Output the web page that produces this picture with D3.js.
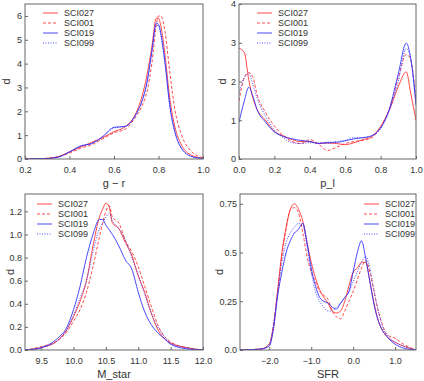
<!DOCTYPE html>
<html>
<head>
<meta charset="utf-8">
<script src="https://cdn.jsdelivr.net/npm/d3@7"></script>
<style>
  html, body { margin: 0; padding: 0; background: #fff; }
  svg { display: block; font-family: "Liberation Sans", Arial, sans-serif; }
</style>
</head>
<body>
<div id="chart"></div>
<script>
// series names (legend order)
const seriesNames = ["SCI027", "SCI001", "SCI019", "SCI099"];

// g - r
const grX       = [0.2, 0.25, 0.3, 0.35, 0.4, 0.45, 0.5, 0.55, 0.6, 0.65, 0.7, 0.725, 0.75, 0.77, 0.79, 0.8, 0.81, 0.83, 0.85, 0.875, 0.9, 0.95, 1.0];
const grSCI027  = [0.0, 0.01, 0.03, 0.1, 0.3, 0.5, 0.7, 0.9, 1.15, 1.35, 1.95, 2.6, 3.6, 4.7, 5.9, 5.9, 5.6, 4.3, 2.6, 1.3, 0.65, 0.15, 0.03];
const grSCI001  = [0.0, 0.01, 0.03, 0.1, 0.25, 0.45, 0.6, 0.85, 1.1, 1.25, 1.8, 2.2, 2.9, 4.0, 5.6, 6.0, 6.0, 5.3, 3.7, 2.0, 1.1, 0.3, 0.05];
const grSCI019  = [0.0, 0.01, 0.02, 0.08, 0.3, 0.55, 0.65, 0.95, 1.33, 1.37, 1.9, 2.4, 3.3, 4.5, 5.7, 5.65, 5.3, 4.0, 2.3, 1.1, 0.5, 0.1, 0.02];
const grSCI099  = [0.0, 0.01, 0.02, 0.08, 0.28, 0.52, 0.65, 0.92, 1.3, 1.36, 1.88, 2.4, 3.3, 4.5, 5.6, 5.6, 5.2, 3.9, 2.25, 1.05, 0.5, 0.1, 0.02];

// p_l
const plX       = [0.0, 0.03, 0.055, 0.08, 0.1, 0.15, 0.2, 0.25, 0.3, 0.35, 0.4, 0.45, 0.5, 0.55, 0.6, 0.65, 0.7, 0.75, 0.8, 0.85, 0.9, 0.945, 0.97, 1.0];
const plSCI027  = [2.86, 2.75, 2.05, 1.55, 1.3, 1.0, 0.71, 0.6, 0.5, 0.45, 0.45, 0.4, 0.41, 0.4, 0.37, 0.42, 0.5, 0.58, 0.84, 1.27, 1.87, 2.25, 1.7, 1.0];
const plSCI001  = [1.5, 2.1, 2.23, 2.1, 1.7, 1.2, 0.85, 0.6, 0.45, 0.4, 0.5, 0.38, 0.22, 0.3, 0.4, 0.45, 0.48, 0.55, 0.82, 1.3, 2.1, 2.7, 2.55, 1.5];
const plSCI019  = [0.95, 1.5, 1.85, 1.6, 1.3, 0.95, 0.7, 0.58, 0.52, 0.48, 0.45, 0.4, 0.43, 0.43, 0.47, 0.52, 0.55, 0.6, 0.8, 1.3, 2.2, 2.99, 2.6, 1.4];
const plSCI099  = [1.7, 2.1, 2.2, 1.9, 1.6, 1.1, 0.75, 0.55, 0.42, 0.4, 0.42, 0.42, 0.4, 0.45, 0.48, 0.55, 0.55, 0.6, 0.78, 1.25, 2.0, 2.85, 2.6, 1.4];

// M_star
const msX       = [9.25, 9.5, 9.75, 9.9, 10.0, 10.1, 10.2, 10.3, 10.4, 10.45, 10.5, 10.55, 10.6, 10.7, 10.8, 10.9, 11.0, 11.1, 11.2, 11.3, 11.4, 11.5, 11.75, 12.0];
const msSCI027  = [0.0, 0.02, 0.08, 0.18, 0.29, 0.42, 0.6, 0.9, 1.15, 1.22, 1.27, 1.24, 1.1, 1.05, 0.93, 0.82, 0.64, 0.5, 0.32, 0.18, 0.1, 0.06, 0.02, 0.0];
const msSCI001  = [0.0, 0.03, 0.08, 0.16, 0.25, 0.35, 0.5, 0.72, 0.98, 1.1, 1.2, 1.25, 1.15, 1.1, 0.95, 0.85, 0.72, 0.55, 0.38, 0.22, 0.12, 0.07, 0.02, 0.0];
const msSCI019  = [0.0, 0.02, 0.1, 0.2, 0.35, 0.55, 0.8, 1.0, 1.13, 1.13, 1.08, 1.04, 1.0, 0.9, 0.78, 0.7, 0.5, 0.33, 0.22, 0.15, 0.1, 0.05, 0.01, 0.0];
const msSCI099  = [0.0, 0.02, 0.08, 0.18, 0.3, 0.45, 0.6, 0.85, 1.05, 1.1, 1.15, 1.18, 1.12, 1.05, 0.95, 0.8, 0.65, 0.48, 0.32, 0.2, 0.12, 0.06, 0.02, 0.0];

// SFR
const sfrX      = [-2.7, -2.2, -2.0, -1.9, -1.8, -1.7, -1.6, -1.5, -1.4, -1.3, -1.2, -1.1, -1.0, -0.9, -0.8, -0.7, -0.6, -0.5, -0.4, -0.3, -0.2, -0.1, 0.0, 0.1, 0.2, 0.3, 0.4, 0.5, 0.6, 0.7, 0.8, 1.0, 1.2, 1.5];
const sfrSCI027 = [0.0, 0.005, 0.03, 0.12, 0.31, 0.5, 0.63, 0.72, 0.75, 0.72, 0.66, 0.55, 0.45, 0.37, 0.31, 0.27, 0.24, 0.2, 0.19, 0.2, 0.25, 0.33, 0.4, 0.42, 0.45, 0.45, 0.35, 0.24, 0.15, 0.1, 0.07, 0.04, 0.02, 0.0];
const sfrSCI001 = [0.0, 0.005, 0.03, 0.13, 0.3, 0.48, 0.62, 0.72, 0.73, 0.7, 0.6, 0.48, 0.4, 0.35, 0.3, 0.28, 0.26, 0.2, 0.17, 0.16, 0.2, 0.25, 0.3, 0.36, 0.42, 0.46, 0.4, 0.3, 0.2, 0.13, 0.08, 0.06, 0.03, 0.0];
const sfrSCI019 = [0.0, 0.005, 0.02, 0.11, 0.28, 0.4, 0.5, 0.56, 0.6, 0.62, 0.65, 0.55, 0.42, 0.33, 0.27, 0.25, 0.24, 0.22, 0.21, 0.24, 0.27, 0.3, 0.4, 0.5, 0.56, 0.47, 0.35, 0.23, 0.15, 0.1, 0.07, 0.03, 0.01, 0.0];
const sfrSCI099 = [0.0, 0.005, 0.03, 0.13, 0.3, 0.45, 0.55, 0.6, 0.63, 0.65, 0.64, 0.53, 0.4, 0.3, 0.25, 0.22, 0.2, 0.2, 0.22, 0.24, 0.27, 0.3, 0.35, 0.4, 0.45, 0.48, 0.42, 0.3, 0.2, 0.12, 0.08, 0.04, 0.02, 0.0];

// tick values
const grTicksX  = [0.2, 0.4, 0.6, 0.8, 1.0];
const grTicksY  = [0, 1, 2, 3, 4, 5, 6];
const plTicksX  = [0.0, 0.2, 0.4, 0.6, 0.8, 1.0];
const plTicksY  = [0, 1, 2, 3, 4];
const msTicksX  = [9.5, 10.0, 10.5, 11.0, 11.5, 12.0];
const msTicksY  = [0.0, 0.2, 0.4, 0.6, 0.8, 1.0, 1.2];
const sfrTicksX = [-2.0, -1.0, 0.0, 1.0];
const sfrTicksY = [0.0, 0.25, 0.5, 0.75];

const W = 424, H = 381;
const styles = [
    { color: "#ff2a2a", dash: null },
    { color: "#ff2a2a", dash: "3,2" },
    { color: "#2a2aff", dash: null },
    { color: "#2a2aff", dash: "1,1.5" }
];

const fmt1 = d => d3.format(".1f")(d).replace("-", "\u2212");
const fmtY4 = d => (d === 0 ? "0.0" : d === 0.5 ? "0.5" : String(d));

const panels = [
    { x: grX, ys: [grSCI027, grSCI001, grSCI019, grSCI099], xDom: [0.2, 1.0], yDom: [0, 6.5],
      xt: grTicksX, yt: grTicksY, xf: fmt1, yf: d => d, xlab: "g \u2212 r",
      box: [25, 4, 203, 159], legX: 43, legY: 13, dOff: 19 },
    { x: plX, ys: [plSCI027, plSCI001, plSCI019, plSCI099], xDom: [0, 1], yDom: [0, 4],
      xt: plTicksX, yt: plTicksY, xf: fmt1, yf: d => d, xlab: "p_l",
      box: [239, 4, 416, 159], legX: 257, legY: 13, dOff: 17 },
    { x: msX, ys: [msSCI027, msSCI001, msSCI019, msSCI099], xDom: [9.25, 12], yDom: [0, 1.35],
      xt: msTicksX, yt: msTicksY, xf: fmt1, yf: fmt1, xlab: "M_star",
      box: [25, 194, 203, 350], legX: 37, legY: 204, dOff: 15 },
    { x: sfrX, ys: [sfrSCI027, sfrSCI001, sfrSCI019, sfrSCI099], xDom: [-2.7, 1.5], yDom: [0, 0.8],
      xt: sfrTicksX, yt: sfrTicksY, xf: fmt1, yf: fmtY4, xlab: "SFR",
      box: [240, 194, 416, 350], legX: 364, legY: 204, dOff: 21 }
];

const svg = d3.select("#chart").append("svg")
    .attr("width", W).attr("height", H);
const defs = svg.append("defs");

panels.forEach((p, pi) => {
    const [x0, y0, x1, y1] = p.box;
    const xs = d3.scaleLinear().domain(p.xDom).range([x0, x1]);
    const ys = d3.scaleLinear().domain(p.yDom).range([y1, y0]);
    const g = svg.append("g");

    defs.append("clipPath").attr("id", "clip" + pi)
        .append("rect").attr("x", x0).attr("y", y0).attr("width", x1 - x0).attr("height", y1 - y0);

    // curves
    const line = d3.line()
        .x((d, i) => xs(p.x[i]))
        .y(d => ys(d))
        .curve(d3.curveMonotoneX);
    const curves = g.append("g").attr("clip-path", `url(#clip${pi})`);
    p.ys.forEach((arr, si) => {
        curves.append("path")
            .attr("d", line(arr))
            .attr("fill", "none")
            .attr("stroke", styles[si].color)
            .attr("stroke-opacity", 0.85)
            .attr("stroke-width", 1)
            .attr("stroke-dasharray", styles[si].dash);
    });

    // axes (ticks inward)
    g.append("g").attr("transform", `translate(0,${y1})`)
        .call(d3.axisBottom(xs).tickValues(p.xt).tickSize(-3).tickPadding(8).tickFormat(p.xf))
        .call(a => a.select(".domain").remove())
        .call(a => a.selectAll("line").attr("stroke", "#666"))
        .call(a => a.selectAll("text").attr("fill", "#333").attr("font-size", 9)
            .attr("font-family", "Liberation Sans, Arial, sans-serif"));
    g.append("g").attr("transform", `translate(${x0},0)`)
        .call(d3.axisLeft(ys).tickValues(p.yt).tickSize(-3).tickPadding(3).tickFormat(p.yf))
        .call(a => a.select(".domain").remove())
        .call(a => a.selectAll("line").attr("stroke", "#666"))
        .call(a => a.selectAll("text").attr("fill", "#333").attr("font-size", 9)
            .attr("font-family", "Liberation Sans, Arial, sans-serif"));

    // frame
    g.append("rect")
        .attr("x", x0).attr("y", y0).attr("width", x1 - x0).attr("height", y1 - y0)
        .attr("fill", "none").attr("stroke", "#666").attr("stroke-width", 1);

    // axis titles
    g.append("text")
        .attr("x", (x0 + x1) / 2).attr("y", y1 + 28)
        .attr("text-anchor", "middle").attr("font-size", 11).attr("fill", "#333")
        .text(p.xlab);
    g.append("text")
        .attr("transform", `translate(${x0 - p.dOff},${(y0 + y1) / 2}) rotate(-90)`)
        .attr("text-anchor", "middle").attr("dy", "0.35em")
        .attr("font-size", 11).attr("fill", "#333")
        .text("d");

    // legend
    const leg = g.append("g");
    seriesNames.forEach((name, si) => {
        const ly = p.legY + si * 10;
        leg.append("line")
            .attr("x1", p.legX).attr("x2", p.legX + 15).attr("y1", ly).attr("y2", ly)
            .attr("stroke", styles[si].color).attr("stroke-opacity", 0.85)
            .attr("stroke-width", 1).attr("stroke-dasharray", styles[si].dash);
        leg.append("text")
            .attr("x", p.legX + 21).attr("y", ly).attr("dy", "0.35em")
            .attr("font-size", 9).attr("fill", "#333")
            .text(name);
    });
});
</script>
</body>
</html>
